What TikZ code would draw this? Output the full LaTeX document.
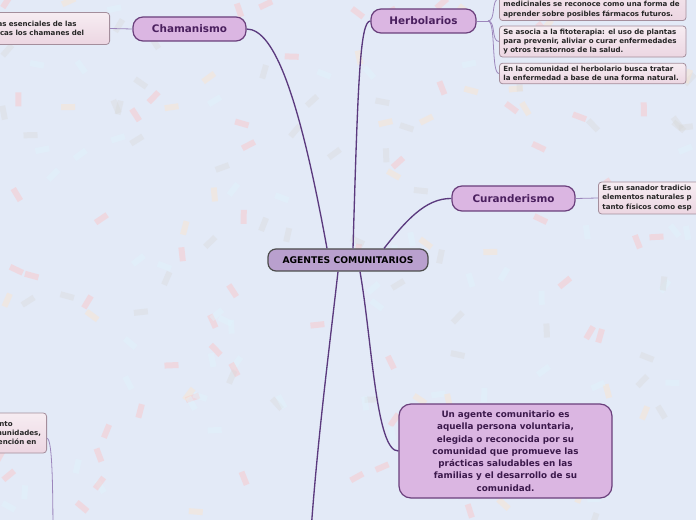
\documentclass[tikz,border=0pt]{standalone}
\usepackage{fontspec}
\setmainfont{DejaVu Sans}
\usetikzlibrary{positioning}
\definecolor{sfondo}{HTML}{E3EAF7}
\definecolor{ramo}{HTML}{5B3A7E}
\definecolor{ramino}{HTML}{9C86BC}
\definecolor{tema}{HTML}{DBB6E2}
\definecolor{bordotema}{HTML}{6A3F7C}
\definecolor{testotema}{HTML}{4A1F5E}
\definecolor{centro}{HTML}{B9A0CE}
\definecolor{foglia}{HTML}{ECD6E2}
\definecolor{bordofoglia}{HTML}{A48E9C}

\begin{document}
\begin{tikzpicture}[x=0.75pt,y=-0.75pt,
    tema/.style={draw=bordotema,line width=0.9pt,fill=tema,rounded corners=7.5pt,
        text=testotema,font=\fontsize{7.8}{9}\selectfont\bfseries,minimum height=18pt},
    centrale/.style={draw=black!70,line width=0.9pt,fill=centro,rounded corners=6pt,
        font=\fontsize{6.9}{8}\selectfont\bfseries,minimum width=120pt,minimum height=16.5pt},
    grande/.style={draw=bordotema,line width=0.9pt,fill=tema,rounded corners=9pt,
        text=testotema!80!black,font=\fontsize{6.6}{9.2}\selectfont\bfseries,align=center,
        minimum width=159.75pt,minimum height=70.5pt},
    foglia/.style={draw=bordofoglia,line width=0.6pt,top color=foglia!45!white,bottom color=foglia,
        rounded corners=2.5pt,font=\fontsize{5.3}{6.8}\selectfont\bfseries,align=left,
        inner xsep=3pt,inner ysep=2.3pt,text=black!85},
    ramo/.style={draw=ramo,line width=1pt},
    ramino/.style={draw=ramino,line width=0.6pt}]
    \useasboundingbox (0,0) rectangle (696,520);
    \clip (0,0) rectangle (696,520);
    \fill[sfondo] (0,0) rectangle (696,520);
    % --- coriandoli sullo sfondo ---
    \pgfmathsetseed{11}
    \foreach \i in {1,...,200}{
        \pgfmathsetmacro{\cx}{rnd*696}
        \pgfmathsetmacro{\cy}{rnd*520}
        \pgfmathsetmacro{\ang}{rnd*180}
        \pgfmathtruncatemacro{\col}{int(rnd*4)}
        \ifcase\col \def\cc{red!25}\or \def\cc{gray!30}\or \def\cc{cyan!12}\or \def\cc{orange!22}\fi
        \fill[\cc,opacity=0.4,rotate around={\ang:(\cx,\cy)}] (\cx-7,\cy-3) rectangle (\cx+7,\cy+3);
    }
    % --- nodo centrale e rami principali ---
    \node[centrale] (ag) at (348,260) {AGENTES COMUNITARIOS};
    \node[tema,minimum width=84.75pt] (cham) at (189.5,29) {Chamanismo};
    \node[tema,minimum width=78.75pt] (herb) at (423.5,21) {Herbolarios};
    \node[tema,minimum width=92.25pt,minimum height=18.75pt] (cur) at (513.5,198.5) {Curanderismo};
    \node[grande] (def) at (505.5,451) {Un agente comunitario es\\aquella persona voluntaria,\\elegida o reconocida por su\\comunidad que promueve las\\prácticas saludables en las\\familias y el desarrollo de su\\comunidad.};
    \coordinate (fuori) at (309,560);
    \draw[ramo] ([xshift=-15.75pt]ag.north) .. controls (300,100) and (275,29) .. (cham.east);
    \draw[ramo] ([xshift=3.75pt]ag.north) .. controls (358,80) and (360,21) .. (herb.west);
    \draw[ramo] ([xshift=27pt]ag.north) .. controls (405,222) and (425,198) .. (cur.west);
    \draw[ramo] ([xshift=9pt]ag.south) .. controls (372,340) and (376,452) .. (def.west);
    \draw[ramo] ([xshift=-7.5pt]ag.south) .. controls (328,360) and (316,450) .. (fuori);
    % --- foglie ---
    \node[foglia,text width=81pt,minimum height=24pt,anchor=east] (c1) at (110,28.5) {as esenciales de las\\icas los chamanes del};
    \draw[ramino] (cham.west) -- (c1.east);
    \node[foglia,text width=134pt,anchor=south west] (h1) at (499,21) {\mbox{}\\\mbox{}\\\mbox{}\\medicinales se reconoce como una forma de\\aprender sobre posibles fármacos futuros.};
    \node[foglia,text width=134pt,anchor=west] (h2) at (499,41.5) {Se asocia a la fitoterapia: el uso de plantas\\para prevenir, aliviar o curar enfermedades\\y otros trastornos de la salud.};
    \node[foglia,text width=134pt,anchor=west] (h3) at (499,73.5) {En la comunidad el herbolario busca tratar\\la enfermedad a base de una forma natural.};
    \coordinate (hnodo) at (488,21);
    \draw[ramino] (herb.east) -- (hnodo);
    \foreach \f in {h1,h2,h3}{\draw[ramino] (hnodo) .. controls +(8,0) and +(-8,0) .. (\f.west);}
    \node[foglia,text width=120pt,minimum height=24pt,anchor=west] (u1) at (598,198) {Es un sanador tradicio\\elementos naturales p\\tanto físicos como esp};
    \draw[ramino] (cur.east) -- (u1.east -| u1.west);
    \node[foglia,text width=36pt,minimum height=30pt,anchor=east] (b1) at (47,433) {ento\\munidades,\\tención en};
    \coordinate (giu) at (53,560);
    \draw[ramino] ([yshift=-4pt]b1.east) .. controls +(6,0) and +(0,-60) .. (giu);
\end{tikzpicture}
\end{document}
